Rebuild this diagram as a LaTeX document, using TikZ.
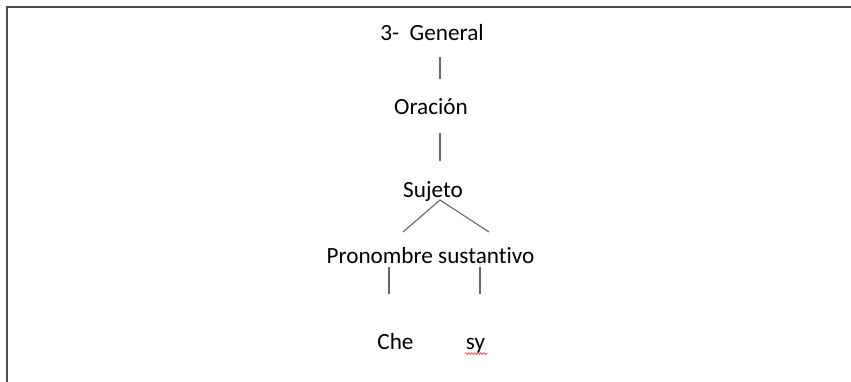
\documentclass[tikz,border=0pt]{standalone}
\usepackage{fontspec}
\setmainfont[Ligatures={NoCommon}]{Carlito}
\usetikzlibrary{decorations.pathmorphing}
\begin{document}
\begin{tikzpicture}[x=1pt,y=-1pt,
  lbl/.style={anchor=base,inner sep=0pt,font=\fontsize{23.2}{27}\selectfont,text=black},
  conn/.style={draw=black!60,line width=1.1pt},
  frame/.style={draw=black!70,line width=1.6pt}]
\useasboundingbox (0,0) rectangle (851,382);
\draw[frame] (7,382) -- (7,7) -- (851,7);
\node[lbl] (general) at (432,41) {3-\ \ General};
\node[lbl] (oracion) at (431,115) {Oración};
\node[lbl] (sujeto) at (433,198) {Sujeto};
\node[lbl] (pron) at (430.5,263) {Pronombre sustantivo};
\node[lbl] (che) at (395.5,349) {Che};
\node[lbl] (sy) at (475.5,349) {sy};
\coordinate (g1) at (440,57); \coordinate (g2) at (440,79);
\coordinate (o1) at (440,133); \coordinate (o2) at (440,161);
\coordinate (s0) at (440,200); \coordinate (sl) at (403,232); \coordinate (sr) at (489,232);
\coordinate (pl1) at (389,267); \coordinate (pl2) at (389,294);
\coordinate (pr1) at (480,267); \coordinate (pr2) at (480,294);
\draw[conn] (g1) -- (g2);
\draw[conn] (o1) -- (o2);
\draw[conn] (sl) -- (s0) -- (sr);
\draw[conn] (pl1) -- (pl2);
\draw[conn] (pr1) -- (pr2);
\draw[red!80,line width=0.6pt,decorate,decoration={snake,amplitude=0.9pt,segment length=3pt}] (465,353.5) -- (487,353.5);
\end{tikzpicture}
\end{document}
